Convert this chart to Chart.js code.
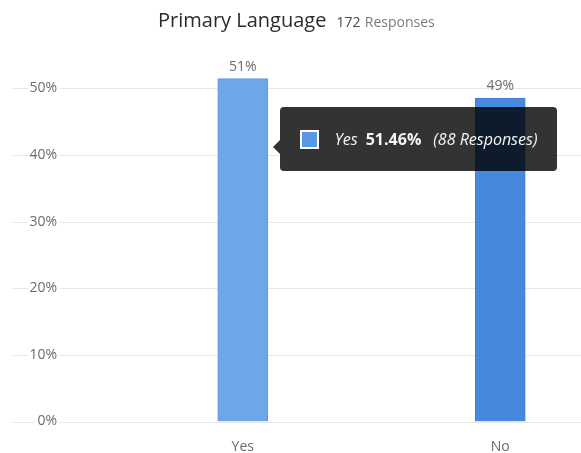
<!DOCTYPE html>
<html>
<head>
<meta charset="utf-8">
<script src="https://cdn.jsdelivr.net/npm/chart.js@4/dist/chart.umd.min.js"></script>
<style>
  html, body { margin: 0; padding: 0; background: #fff; overflow: hidden; }
  #wrap { position: relative; width: 629px; height: 453px; }
  #head { position: absolute; left: 158px; top: 10px; line-height: 20px; white-space: nowrap;
          font-family: "Open Sans", sans-serif; }
  #head .name { font-size: 20px; color: #2b2b2b; }
  #head .count { font-size: 14px; color: #4a4a4a; margin-left: 6px; }
  #head .unit { font-size: 14px; color: #7a7a7a; }
  #tip { position: absolute; display: none; height: 64px; padding: 0 20px; box-sizing: border-box;
         background: rgba(0, 0, 0, 0.8); border-radius: 4px; color: #f4f4f4; white-space: nowrap;
         font-family: "Open Sans", sans-serif; font-size: 16px; align-items: center; }
  #tip .caret { position: absolute; left: -7px; width: 0; height: 0;
                border-top: 7px solid transparent; border-bottom: 7px solid transparent;
                border-right: 7px solid rgba(0, 0, 0, 0.8); }
  #tip .sw { display: inline-block; width: 15px; height: 15px; border: 2px solid #fff; margin-right: 16px; }
  #tip i { font-style: italic; }
  #tip b { font-weight: bold; margin: 0 12px 0 8px; }
</style>
</head>
<body>
<div id="wrap">
  <canvas id="chart" width="629" height="453"></canvas>
  <div id="head"><span class="name">Primary Language</span> <span class="count">172</span> <span class="unit">Responses</span></div>
  <div id="tip"></div>
</div>
<script>
// answers to "Primary Language"
const categories = ['Yes', 'No'];
const percents = [51.46, 48.54];
const responses = [88, 84];
const yTicks = [0, 10, 20, 30, 40, 50];

const fillColors = ['#6ea6e8', '#4689df'];
const borderColors = ['#5b98e4', '#3f80d8'];

// gridlines run the full width, starting left of the tick labels
const fullGrid = {
  id: 'fullGrid',
  beforeDraw(chart) {
    const ctx = chart.ctx, y = chart.scales.y, area = chart.chartArea;
    ctx.save();
    ctx.strokeStyle = '#e6e6e6';
    ctx.lineWidth = 1;
    y.ticks.forEach(t => {
      const py = Math.round(y.getPixelForValue(t.value)) + 0.5;
      ctx.beginPath();
      ctx.moveTo(13, py);
      ctx.lineTo(area.right, py);
      ctx.stroke();
    });
    ctx.restore();
  }
};

// rounded percentage above each bar
const barLabels = {
  id: 'barLabels',
  afterDatasetsDraw(chart) {
    const ctx = chart.ctx;
    ctx.save();
    ctx.font = '14px "Open Sans", sans-serif';
    ctx.fillStyle = '#6b6b6b';
    ctx.textAlign = 'center';
    ctx.textBaseline = 'alphabetic';
    chart.getDatasetMeta(0).data.forEach((bar, i) => {
      ctx.fillText(Math.round(percents[i]) + '%', bar.x, bar.y - 8);
    });
    ctx.restore();
  }
};

Chart.Tooltip.positioners.barSide = function(items, eventPosition) {
  if (!items.length) return false;
  const el = items[0].element;
  return { x: el.x + el.width / 2, y: eventPosition.y };
};

function externalTip(context) {
  const tip = document.getElementById('tip');
  const t = context.tooltip;
  if (t.opacity === 0 || !t.dataPoints || !t.dataPoints.length) {
    tip.style.display = 'none';
    return;
  }
  const i = t.dataPoints[0].dataIndex;
  tip.innerHTML =
    '<span class="caret"></span>' +
    '<span class="sw" style="background:' + borderColors[i] + '"></span>' +
    '<i>' + categories[i] + '</i><b>' + percents[i].toFixed(2) + '%</b>' +
    '<i>(' + responses[i] + ' Responses)</i>';
  const boxTop = t.caretY - 40;
  tip.style.display = 'flex';
  tip.style.left = (t.caretX + 12) + 'px';
  tip.style.top = boxTop + 'px';
  tip.querySelector('.caret').style.top = (t.caretY - boxTop - 7) + 'px';
}

const chart = new Chart(document.getElementById('chart'), {
  type: 'bar',
  data: {
    labels: categories,
    datasets: [{
      data: percents,
      backgroundColor: fillColors,
      borderColor: borderColors,
      borderWidth: 1,
      barThickness: 50
    }]
  },
  options: {
    responsive: false,
    animation: false,
    devicePixelRatio: 1,
    layout: { padding: { left: 28, top: 75, right: 0, bottom: 0 } },
    scales: {
      x: {
        afterFit(scale) { scale.height = 31.5; },
        grid: { display: false, drawTicks: false },
        border: { display: false },
        ticks: { color: '#6b6b6b', padding: 17, font: { family: 'Open Sans', size: 14 } }
      },
      y: {
        min: 0,
        max: 52,
        afterBuildTicks(scale) {
          scale.ticks = yTicks.map(v => ({ value: v }));
        },
        afterFit(scale) {
          // the wide label padding should only push the labels left
          scale.width = 86;
          scale.paddingTop = 0;
          scale.paddingBottom = 0;
        },
        grid: { display: false, drawTicks: false },
        border: { display: false },
        ticks: {
          color: '#6b6b6b',
          padding: 57,
          font: { family: 'Open Sans', size: 14 },
          showLabelBackdrop: true,
          backdropColor: '#ffffff',
          backdropPadding: { left: 3, right: 3, top: 1, bottom: 1 },
          callback: v => v + '%'
        }
      }
    },
    plugins: {
      legend: { display: false },
      title: { display: false },
      tooltip: { enabled: false, position: 'barSide', external: externalTip }
    }
  },
  plugins: [fullGrid, barLabels]
});

chart.tooltip.setActiveElements([{ datasetIndex: 0, index: 0 }], { x: 243, y: 147 });
chart.draw();
</script>
</body>
</html>
